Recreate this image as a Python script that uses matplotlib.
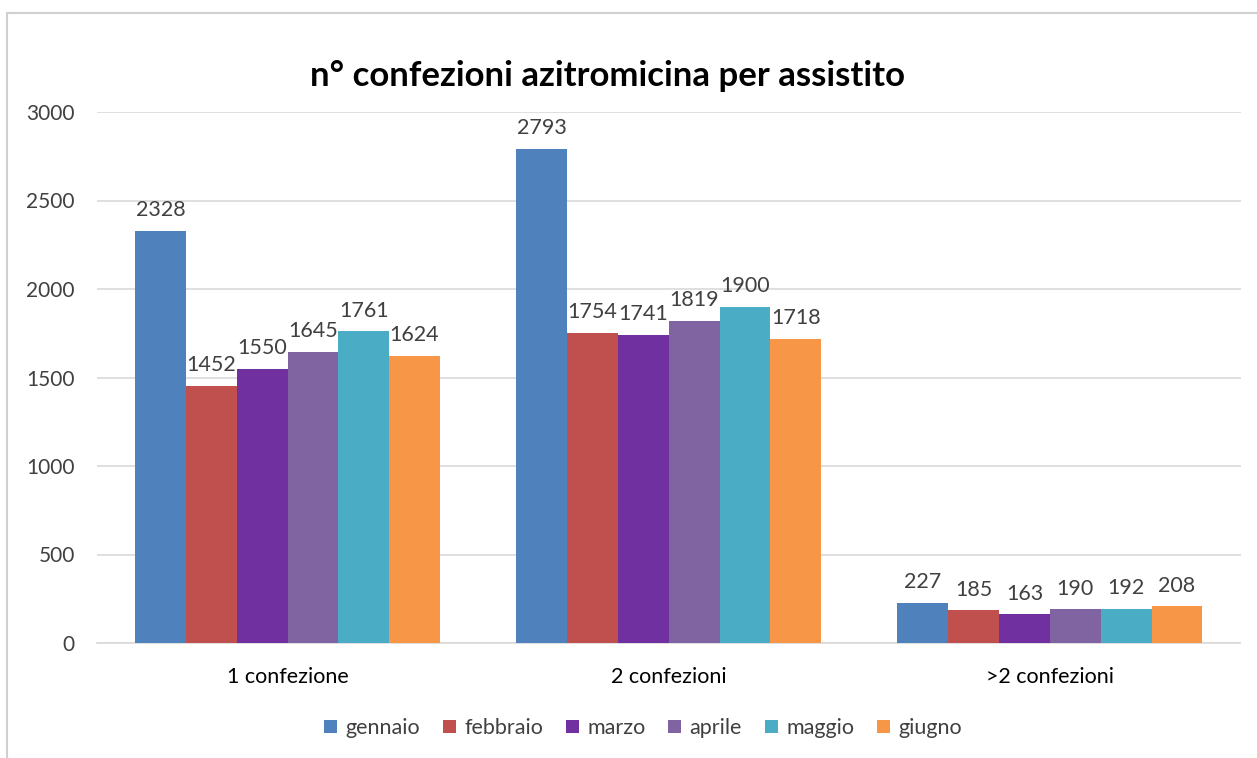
import matplotlib
matplotlib.use("Agg")
import matplotlib.pyplot as plt
import numpy as np
from matplotlib.patches import Rectangle

categories = ["1 confezione", "2 confezioni", ">2 confezioni"]
months = ["gennaio", "febbraio", "marzo", "aprile", "maggio", "giugno"]
gennaio = [2328, 2793, 227]
febbraio = [1452, 1754, 185]
marzo = [1550, 1741, 163]
aprile = [1645, 1819, 190]
maggio = [1761, 1900, 192]
giugno = [1624, 1718, 208]
series = [gennaio, febbraio, marzo, aprile, maggio, giugno]
colors = ["#4F81BD", "#C0504D", "#7030A0", "#8064A2", "#4BACC6", "#F79646"]

plt.rcParams['font.family'] = ['Lato', 'DejaVu Sans']

W, H = 1257, 758
fig = plt.figure(figsize=(W / 100, H / 100), dpi=100)
fig.patches.append(Rectangle((7 / W, -0.1), 1.1, 1 - 13 / H + 0.1, transform=fig.transFigure,
                             fill=False, edgecolor="#D0D0D0", linewidth=1.5))

ax = fig.add_axes([97 / W, 1 - 643 / H, 1143.5 / W, 531 / H])
x = np.arange(len(categories))
bw = 0.1333
for i, (name, vals, c) in enumerate(zip(months, series, colors)):
    pos = x + (i - 2.5) * bw
    bars = ax.bar(pos, vals, width=bw, color=c, label=name, zorder=3)
    for b, v in zip(bars, vals):
        ax.text(b.get_x() + b.get_width() / 2, v + 60, str(v), ha="center", va="bottom",
                fontsize=15.5, color="#404040")

ax.set_xlim(-0.5, 2.5)
ax.set_ylim(0, 3000)
ax.set_yticks(np.arange(0, 3001, 500))
ax.yaxis.grid(True, color="#D9D9D9", linewidth=1.2, zorder=0)
for s in ["top", "right", "left"]:
    ax.spines[s].set_visible(False)
ax.spines["bottom"].set_color("#D9D9D9")
ax.spines["bottom"].set_linewidth(1.2)
ax.set_xticks(x)
ax.set_xticklabels(categories)
ax.tick_params(axis="y", length=0, labelsize=15, labelcolor="#404040", pad=16)
ax.tick_params(axis="x", length=0, labelsize=15.5, labelcolor="#000000", pad=17)

fig.text(607 / W, 1 - 76 / H, "n° confezioni azitromicina per assistito", ha="center", va="center",
         fontsize=25, fontweight="bold", color="#000000")

leg = fig.legend(loc="center", bbox_to_anchor=(643 / W, 1 - 728 / H), ncol=6, frameon=False,
                 fontsize=15.5, handlelength=0.6, handleheight=0.6, handletextpad=0.4,
                 columnspacing=1.05, labelcolor="#404040")

fig.savefig("out.png", dpi=100, facecolor="white")
